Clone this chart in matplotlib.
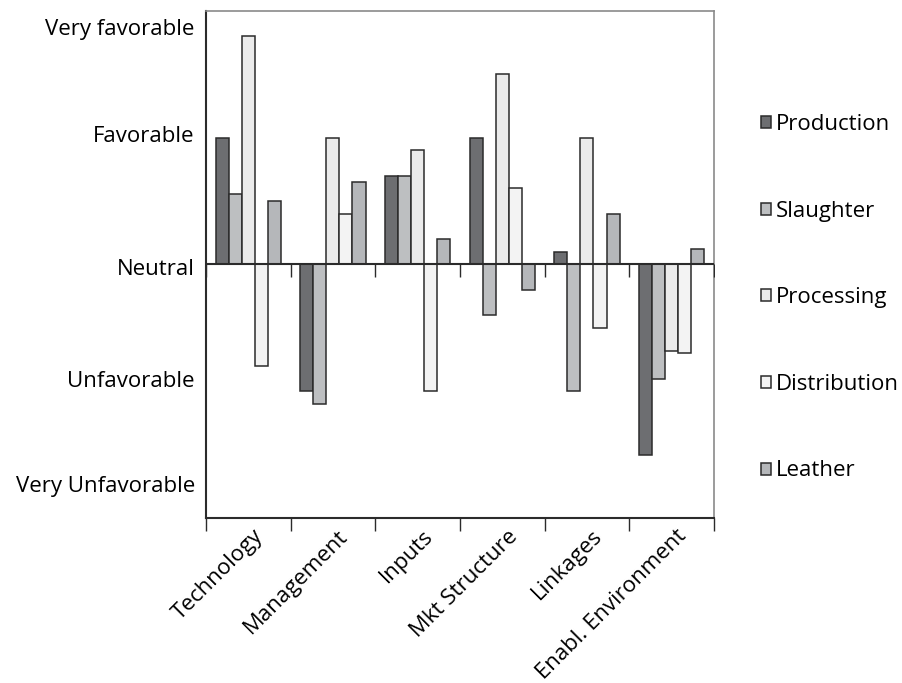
import matplotlib
matplotlib.use("Agg")
import matplotlib.pyplot as plt
import matplotlib.transforms as mtransforms
import numpy as np

plt.rcParams['font.family'] = ['Open Sans', 'DejaVu Sans']

# Datos (escala -2 .. 2, 0 = neutral)
categorias = ["Technology", "Management", "Inputs", "Mkt Structure", "Linkages", "Enabl. Environment"]
series = ["Production", "Slaughter", "Processing", "Distribution", "Leather"]
production = [1.0, -1.0, 0.70, 1.0, 0.10, -1.50]
slaughter = [0.56, -1.10, 0.70, -0.40, -1.0, -0.90]
processing = [1.80, 1.0, 0.90, 1.50, 1.0, -0.68]
distribution = [-0.80, 0.40, -1.0, 0.60, -0.50, -0.70]
leather = [0.50, 0.65, 0.20, -0.20, 0.40, 0.12]
valores = [production, slaughter, processing, distribution, leather]

etiquetas_y = ["Very favorable", "Favorable", "Neutral", "Unfavorable", "Very Unfavorable"]
pos_y = [1.874, 1.033, -0.023, -0.905, -1.733]

colores = ["#6d6e71", "#bdbfc1", "#ebebeb", "#f3f3f3", "#b5b7ba"]

fig = plt.figure(figsize=(9.03, 6.83), dpi=100)
ax = fig.add_axes([0.228, 0.2416, 0.5627, 0.7423])

x = np.arange(len(categorias))
ancho = 0.154
barras = []
for i, (nombre, vals) in enumerate(zip(series, valores)):
    b = ax.bar(x + (i - 2) * ancho, vals, ancho, color=colores[i],
               edgecolor="#2b2b2b", linewidth=1.1, label=nombre, zorder=2)
    barras.append(b)

ax.set_xlim(-0.5, len(categorias) - 0.5)
ax.set_ylim(-2, 2)

# línea neutral con marcas en los límites de categoría
limites = np.arange(len(categorias) + 1) - 0.5
ax.axhline(0, color="#2b2b2b", linewidth=1.5, zorder=3)
ax.plot(limites, np.zeros_like(limites), linestyle="none", marker=3,
        markersize=9, markeredgewidth=1.0, color="#2b2b2b", zorder=3)

# ejes
ax.set_xticks(limites, minor=False)
ax.set_xticklabels([])
ax.tick_params(axis="x", direction="out", length=9, width=1.0, color="#2b2b2b")
ax.set_xticks(x, minor=True)
ax.set_xticklabels(categorias, minor=True, rotation=45, ha="right",
                   va="center", rotation_mode="anchor", fontsize=16)
ax.tick_params(axis="x", which="minor", length=0, pad=11)
desplaza = mtransforms.ScaledTranslation(0.12, 0, fig.dpi_scale_trans)
for etq in ax.get_xticklabels(minor=True):
    etq.set_transform(etq.get_transform() + desplaza)

ax.set_yticks(pos_y)
ax.set_yticklabels(etiquetas_y, fontsize=16)
ax.tick_params(axis="y", length=0, pad=8)

for lado in ["left", "bottom"]:
    ax.spines[lado].set_color("#2b2b2b")
    ax.spines[lado].set_linewidth(1.5)
for lado in ["top", "right"]:
    ax.spines[lado].set_color("#8a8a8a")
    ax.spines[lado].set_linewidth(1.2)

fig.legend(handles=barras, labels=series, loc="upper left",
           bbox_to_anchor=(0.843, 0.8327), frameon=False, fontsize=16,
           handlelength=0.45, handleheight=0.45, handletextpad=0.2,
           labelspacing=2.95, borderpad=0, borderaxespad=0)

fig.savefig("out.png", dpi=100)
